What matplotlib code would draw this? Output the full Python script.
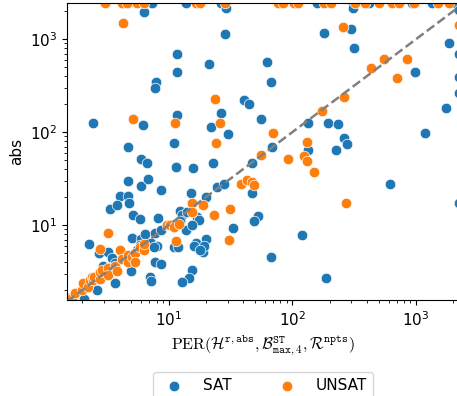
import matplotlib
matplotlib.use("Agg")
import matplotlib.pyplot as plt

plt.rcParams["mathtext.fontset"] = "cm"

BLUE = "#1f77b4"
ORANGE = "#ff7f0e"

XMIN, XMAX = 1.5, 2220
YMIN, YMAX = 1.56, 2440

# SAT instances (x = PER(...), y = abs)
sat_x = [4.73, 7.3, 13.7, 26.3, 159, 312, 420, 922, 1340, 2060,
         6.27, 28.9, 28.3, 182, 300, 310, 316, 1840,
         2220, 2220, 2220, 2220, 2220,
         980, 1760, 1180, 615, 62, 67, 40.7, 44.6, 56, 133, 193, 235, 262, 278,
         227, 135, 69, 47.5, 47.5, 53, 49, 119, 67, 186,
         11.7, 21.4, 11.7, 7.9, 7.7, 2.43, 6.2, 11.7, 22.1, 26.6, 30.2, 11.0,
         4.7, 6.0, 6.7, 11.4, 15.6, 23, 4.67, 6.0, 6.75, 8.7, 15.3, 20, 24.8, 28,
         4.05, 4.67, 4.8, 3.33, 3.86, 5.2, 5.85, 8.2, 12.4, 12.8, 17.0, 17.5,
         33.2, 2.28, 5.1, 5.95, 6.5, 5.9, 7.8, 8.7, 7.15, 8.1, 7.65,
         11.0, 11.8, 16.7, 19.9, 18.9, 19.3, 16, 2.75, 3.25, 3.47, 7.8, 8.7,
         4.94, 7.1, 7.2, 15.5, 14.6, 12.8, 3.7, 2.62, 13.7, 15.5, 18.1,
         5.53, 4.45, 3.69, 2.96, 12.3, 14.1, 2.05]
sat_y = [2440, 2440, 2440, 2440, 2440, 2440, 2440, 2440, 2440, 2440,
         1960, 2140, 1150, 1180, 1280, 2170, 795, 915,
         2050, 700, 390, 263, 17.3,
         440, 183, 98, 27.5, 570, 347, 221, 200, 140, 126, 124, 121, 87.6, 74,
         65, 65, 69, 47, 22, 12.5, 11.2, 7.9, 4.5, 2.7,
         690, 538, 439, 348, 295, 124, 119, 152, 114, 160, 95, 77,
         69, 52, 47, 42, 41, 47, 30, 26.5, 31, 24, 22, 20, 26, 28,
         20.6, 20.6, 17.3, 15.0, 16.5, 13, 11.6, 12, 14.2, 12.8, 12.3, 11.3,
         9.4, 6.3, 7.3, 7.1, 8.0, 6.1, 8.3, 8.9, 6.35, 6.0, 5.8,
         5.75, 5.8, 6.4, 7.1, 5.1, 6.0, 5.9, 5.0, 5.2, 4.4, 4.0, 3.85,
         3.2, 2.8, 2.5, 3.3, 2.7, 2.45, 2.4, 2.0, 8.8, 10.0, 5.4,
         5.4, 4.6, 3.9, 3.6, 11.1, 14.0, 1.62]

# UNSAT instances
unsat_x = [3.06, 4.19, 4.59, 5.53, 6.27, 16.5, 18.1, 28.3, 76, 83.6, 104, 111,
           182, 206, 323, 386, 501, 634, 733, 964, 1520, 1840,
           4.3, 257, 2220, 430, 548, 840, 697, 264, 173, 70, 131, 93, 124, 131,
           149, 273, 56, 38.3, 43.4, 47, 48.6, 23.7, 5.2, 11.3, 26, 24,
           15.4, 15.4, 19.0, 23.1, 31.4, 30.7, 11.5, 3.22, 2.8, 4.07,
           1.54, 1.64, 1.74, 1.98, 2.04, 2.22, 2.31, 2.39, 2.46, 2.5, 2.79, 2.79,
           2.88, 3.25, 3.25, 3.69, 3.8, 4.18, 4.73, 4.73, 5.04, 5.36, 5.36, 5.9,
           6.27, 6.27, 9.7, 10.3, 11.0, 12.1]
unsat_y = [2440, 2440, 2440, 2440, 2440, 2440, 2440, 2440, 2440, 2440, 2440, 2440,
           2440, 2440, 2440, 2440, 2440, 2440, 2440, 2440, 2440, 2440,
           1510, 1340, 1430, 484, 610, 605, 378, 239, 168, 99, 78, 52, 56, 49.3,
           37, 17.5, 56.6, 28, 30.5, 29, 26.9, 230, 137, 124, 124, 77,
           17.3, 13.7, 16.4, 12.8, 14.8, 7.0, 6.8, 8.3, 5.5, 5.35,
           1.65, 1.63, 1.87, 2.0, 2.37, 2.15, 2.56, 2.75, 2.56, 2.75, 2.66, 3.15,
           3.28, 3.43, 2.9, 3.6, 3.2, 4.35, 4.76, 4.0, 4.6, 5.0, 4.0, 5.85,
           5.4, 6.3, 10.0, 10.0, 9.6, 10.4]

fig = plt.figure(figsize=(4.57, 3.96), dpi=100)
ax = fig.add_axes([0.146, 0.242, 0.858, 0.75])

ax.scatter(sat_x, sat_y, s=58, color=BLUE, edgecolors="white", linewidths=0.5,
           label="SAT", zorder=2)
ax.scatter(unsat_x, unsat_y, s=58, color=ORANGE, edgecolors="white", linewidths=0.5,
           label="UNSAT", zorder=2)
ax.plot([XMIN, XMAX], [XMIN, XMAX], ls="--", color="gray", lw=1.8, zorder=3)

ax.set_xscale("log")
ax.set_yscale("log")
ax.set_xlim(XMIN, XMAX)
ax.set_ylim(YMIN, YMAX)
ax.tick_params(labelsize=11)

ax.set_xlabel(r"$\mathrm{PER}(\mathcal{H}^{\mathtt{r,abs}},\mathcal{B}^{\mathtt{ST}}_{\mathtt{max},4},\mathcal{R}^{\mathtt{npts}})$",
              fontsize=11.5)
ax.set_ylabel("abs", fontsize=11)

ax.legend(loc="upper center", bbox_to_anchor=(0.5, -0.215), ncol=2, fontsize=11,
          columnspacing=2.6, handletextpad=0.9)

fig.savefig("out.png", dpi=100)
